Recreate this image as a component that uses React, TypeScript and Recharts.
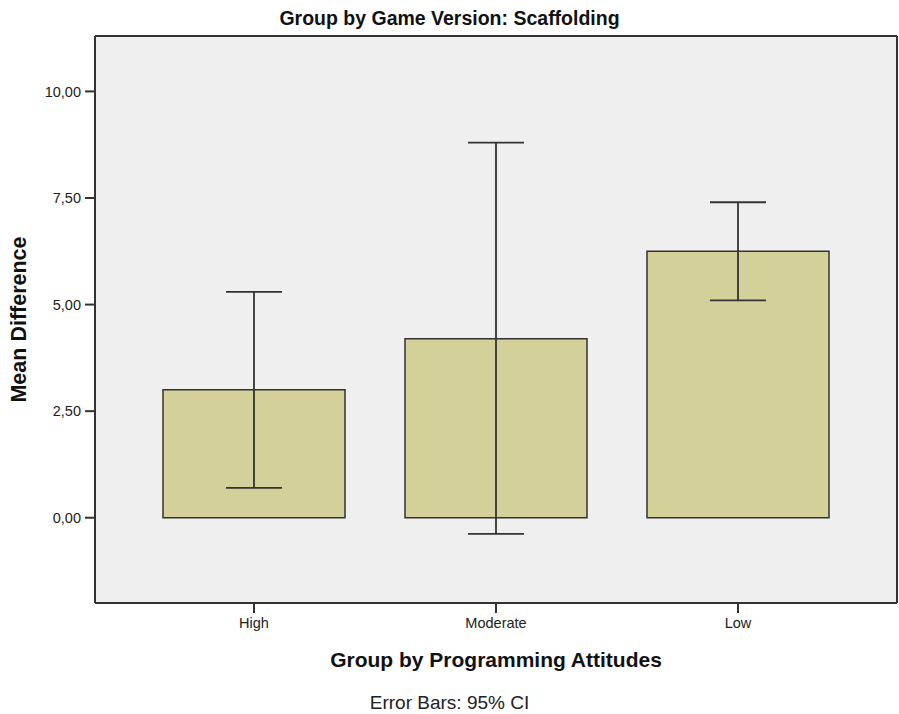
import { Bar, BarChart, CartesianGrid, ErrorBar, Label, XAxis, YAxis } from "recharts";

const groups = ["High", "Moderate", "Low"];
const means = [3.0, 4.2, 6.25];
const ciLow = [0.7, -0.38, 5.1];
const ciHigh = [5.3, 8.8, 7.4];
const yTicks = [0, 2.5, 5, 7.5, 10];

const data = groups.map((g, i) => ({
  group: g,
  mean: means[i],
  ci: [means[i] - ciLow[i], ciHigh[i] - means[i]],
}));

const font = "'Liberation Sans', Arial, sans-serif";
const fmt = (v: number) => v.toFixed(2).replace(".", ",");

export default function App() {
  return (
    <div style={{ position: "absolute", left: 0, top: 0, width: 899, height: 714, background: "#fff", fontFamily: font }}>
      <div
        style={{
          position: "absolute",
          left: 0,
          width: 899,
          top: 6,
          textAlign: "center",
          fontWeight: "bold",
          fontSize: 19.5,
          color: "#111",
          lineHeight: "24px",
        }}
      >
        Group by Game Version: Scaffolding
      </div>
      <BarChart
        width={899}
        height={714}
        data={data}
        margin={{ top: 36, right: 2, bottom: 0, left: 0 }}
        barSize={182}
      >
        <CartesianGrid
          fill="#efefef"
          stroke="#333"
          strokeWidth={2}
          horizontalCoordinatesGenerator={({ offset }: any) => [offset.top]}
          verticalCoordinatesGenerator={({ offset }: any) => [offset.left + offset.width]}
        />
        <XAxis
          dataKey="group"
          padding={{ left: 38, right: 38 }}
          height={111}
          axisLine={{ stroke: "#333", strokeWidth: 2 }}
          tickLine={{ stroke: "#333", strokeWidth: 2 }}
          tickSize={10}
          tickMargin={5}
          tick={{ fontSize: 14.5, fill: "#222", fontFamily: font }}
        >
          <Label
            value="Group by Programming Attitudes"
            position="insideTop"
            offset={49}
            style={{ fontSize: 21, fontWeight: "bold", fill: "#111", fontFamily: font }}
          />
        </XAxis>
        <YAxis
          domain={[-2, 11.3]}
          ticks={yTicks}
          width={95}
          allowDataOverflow
          tickFormatter={fmt}
          axisLine={{ stroke: "#333", strokeWidth: 2 }}
          tickLine={{ stroke: "#333", strokeWidth: 2 }}
          tickSize={10}
          tickMargin={4}
          tick={{ fontSize: 14.5, fill: "#222", fontFamily: font }}
        >
          <Label
            value="Mean Difference"
            angle={-90}
            position="insideLeft"
            offset={18}
            style={{ fontSize: 21.5, fontWeight: "bold", fill: "#111", fontFamily: font, textAnchor: "middle" }}
          />
        </YAxis>
        <Bar dataKey="mean" fill="#d4d09a" stroke="#333" strokeWidth={1.5} isAnimationActive={false}>
          <ErrorBar dataKey="ci" width={28} stroke="#333" strokeWidth={1.8} isAnimationActive={false} />
        </Bar>
      </BarChart>
      <div
        style={{
          position: "absolute",
          left: 0,
          width: 899,
          top: 692,
          textAlign: "center",
          fontSize: 19,
          color: "#222",
          lineHeight: "22px",
        }}
      >
        Error Bars: 95% CI
      </div>
    </div>
  );
}
